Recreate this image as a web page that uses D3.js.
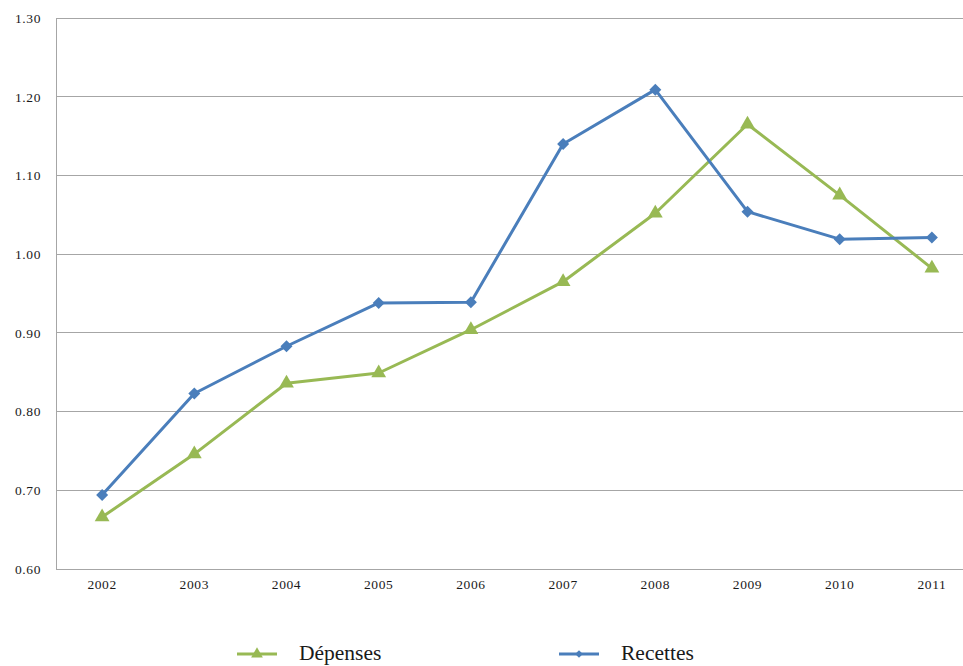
<!DOCTYPE html>
<html>
<head>
<meta charset="utf-8">
<script src="https://cdn.jsdelivr.net/npm/d3@7/dist/d3.min.js"></script>
<style>
  html, body { margin: 0; padding: 0; background: #fff; }
  svg { display: block; }
  text { font-family: "Liberation Serif", "Times New Roman", serif; fill: #1a1a1a; }
</style>
</head>
<body>
<svg id="chart" width="963" height="666"></svg>
<script>
// Années et séries
const years = ["2002", "2003", "2004", "2005", "2006", "2007", "2008", "2009", "2010", "2011"];
const depenses = [0.666, 0.746, 0.836, 0.849, 0.904, 0.965, 1.052, 1.165, 1.075, 0.982];
const recettes = [0.694, 0.823, 0.883, 0.938, 0.939, 1.140, 1.209, 1.054, 1.019, 1.021];
const yTicks = [0.60, 0.70, 0.80, 0.90, 1.00, 1.10, 1.20, 1.30];
const seriesNames = ["Dépenses", "Recettes"];

const svg = d3.select("#chart");
const plot = { left: 56, right: 978, top: 18, bottom: 569 };

const x = d3.scaleBand().domain(years).range([plot.left, plot.right]);
const y = d3.scaleLinear().domain([0.60, 1.30]).range([plot.bottom, plot.top]);

const green = "#98b954";
const blue = "#4a7ebb";
const grid = "#a6a6a6";

// Quadrillage horizontal
svg.append("g")
  .selectAll("line")
  .data(yTicks.slice(1))
  .join("line")
  .attr("x1", plot.left).attr("x2", plot.right)
  .attr("y1", d => y(d)).attr("y2", d => y(d))
  .attr("stroke", grid).attr("stroke-width", 1)
  .attr("shape-rendering", "crispEdges");

// Axe vertical
const yAxis = svg.append("g")
  .attr("transform", `translate(${plot.left},0)`)
  .call(d3.axisLeft(y).tickValues(yTicks).tickFormat(d3.format(".2f")).tickSize(0).tickPadding(15));
yAxis.select(".domain").attr("stroke", grid).attr("shape-rendering", "crispEdges");
yAxis.selectAll("text").attr("font-size", 13.5).style("letter-spacing", "0.6px")
  .attr("font-family", "Liberation Serif, serif").attr("fill", "#1a1a1a");

// Axe horizontal
const xAxis = svg.append("g")
  .attr("transform", `translate(0,${plot.bottom})`)
  .call(d3.axisBottom(x).tickSize(0).tickPadding(10));
xAxis.select(".domain").attr("stroke", grid).attr("shape-rendering", "crispEdges");
xAxis.selectAll("text").attr("font-size", 13.5).style("letter-spacing", "0.6px")
  .attr("font-family", "Liberation Serif, serif").attr("fill", "#1a1a1a");

const cx = d => x(d) + x.bandwidth() / 2;
const line = d3.line().x(d => cx(d.year)).y(d => y(d.value));

const triangle = d3.symbol().type(d3.symbolTriangle).size(95);
const diamond = d3.symbol().type(d3.symbolSquare).size(72);

function drawSeries(values, color, symbolGen, rotate) {
  const pts = years.map((yr, i) => ({ year: yr, value: values[i] }));
  svg.append("path")
    .datum(pts)
    .attr("d", line)
    .attr("fill", "none")
    .attr("stroke", color)
    .attr("stroke-width", 3)
    .attr("stroke-linejoin", "round");
  svg.append("g")
    .selectAll("path")
    .data(pts)
    .join("path")
    .attr("d", symbolGen)
    .attr("transform", d => `translate(${cx(d.year)},${y(d.value)}) rotate(${rotate})`)
    .attr("fill", color);
}

drawSeries(depenses, green, triangle, 0);
drawSeries(recettes, blue, diamond, 45);

// Légende
const legend = [
  { name: seriesNames[0], color: green, rot: 0, x: 237 },
  { name: seriesNames[1], color: blue, rot: 45, x: 559 }
];
const lg = svg.append("g").selectAll("g").data(legend).join("g")
  .attr("transform", d => `translate(${d.x},654)`);
lg.append("line").attr("x1", 0).attr("x2", 40).attr("y1", 0).attr("y2", 0)
  .attr("stroke", d => d.color).attr("stroke-width", 3);
lg.append("path").attr("d", (d, i) => i === 0 ? d3.symbol().type(d3.symbolTriangle).size(60)() : d3.symbol().type(d3.symbolSquare).size(30)())
  .attr("transform", d => `translate(20,0) rotate(${d.rot})`)
  .attr("fill", d => d.color);
lg.append("text").attr("x", 62).attr("y", 6).attr("font-size", 21.5).text(d => d.name);
</script>
</body>
</html>
